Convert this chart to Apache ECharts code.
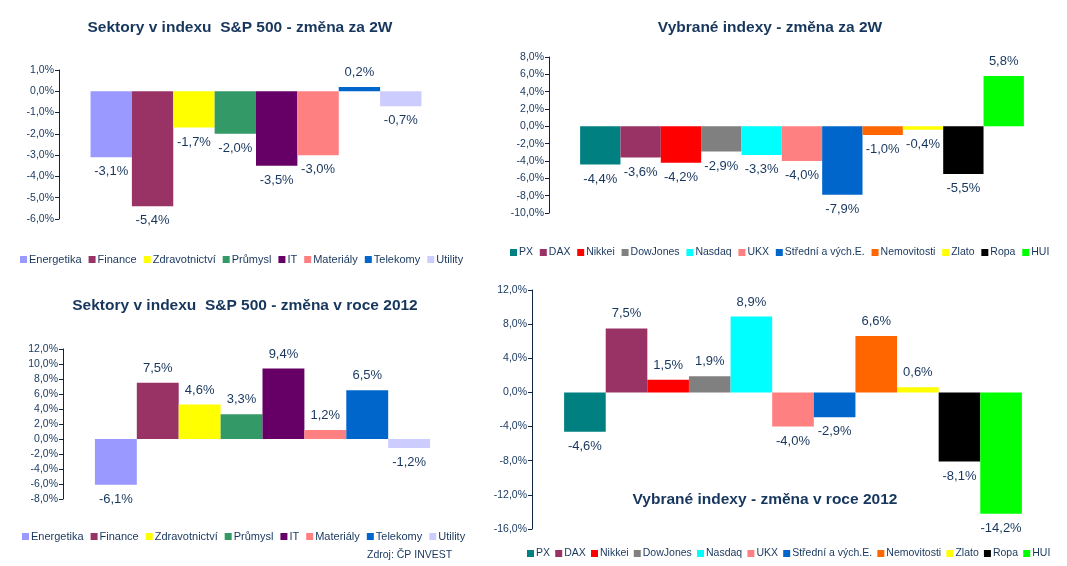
<!DOCTYPE html>
<html><head><meta charset="utf-8">
<script src="https://cdn.jsdelivr.net/npm/echarts@6/dist/echarts.min.js"></script>
<style>html,body{margin:0;padding:0;background:#fff}#c{width:1067px;height:566px}</style>
</head><body><div id="c"></div>
<script>
// ---- data ----
const sectorNames = ['Energetika','Finance','Zdravotnictví','Průmysl','IT','Materiály','Telekomy','Utility'];
const sectorColors = ['#9999FF','#993366','#FFFF00','#339966','#660066','#FF8080','#0066CC','#CCCCFF'];
const sector2W = [-3.1,-5.4,-1.7,-2.0,-3.5,-3.0,0.2,-0.7];
const sector2012 = [-6.1,7.5,4.6,3.3,9.4,1.2,6.5,-1.2];

const indexNames = ['PX','DAX','Nikkei','DowJones','Nasdaq','UKX','Střední a vých.E.','Nemovitosti','Zlato','Ropa','HUI'];
const indexColors = ['#008080','#993366','#FF0000','#808080','#00FFFF','#FF8080','#0066CC','#FF6600','#FFFF00','#000000','#00FF00'];
const index2W = [-4.4,-3.6,-4.2,-2.9,-3.3,-4.0,-7.9,-1.0,-0.4,-5.5,5.8];
const index2012 = [-4.6,7.5,1.5,1.9,8.9,-4.0,-2.9,6.6,0.6,-8.1,-14.2];

const titles = ['Sektory v indexu  S&P 500 - změna za 2W','Vybrané indexy - změna za 2W','Sektory v indexu  S&P 500 - změna v roce 2012','Vybrané indexy - změna v roce 2012'];
const axes = [{min:-6,max:1,interval:1},{min:-10,max:8,interval:2},{min:-8,max:12,interval:2},{min:-16,max:12,interval:4}];

// ---- chart ----
const NAVY = '#17365D';
const FONT = '"Liberation Sans", Arial, sans-serif';
const fmt = v => v.toFixed(1).replace('.', ',') + '%';

const panels = [
  {names: sectorNames, colors: sectorColors, values: sector2W,
   grid:{left:59, right:1067-453, top:70, bottom:566-219},
   legend:{left:15, top:249, width:460, gap:7, fs:11}},
  {names: indexNames, colors: indexColors, values: index2W,
   grid:{left:549, right:1067-1055, top:57, bottom:566-213},
   legend:{left:505, top:242, width:562, gap:6.8, fs:10.5}},
  {names: sectorNames, colors: sectorColors, values: sector2012,
   grid:{left:63, right:1067-462, top:349, bottom:566-499},
   legend:{left:17, top:526, width:460, gap:7, fs:11}},
  {names: indexNames, colors: indexColors, values: index2012,
   grid:{left:522, right:1067-1054, top:290, bottom:566-529},
   legend:{left:522, top:543, width:545, gap:5.2, fs:10.5}}
];
panels[3].grid.left = 532;

const option = {
  animation:false,
  textStyle:{fontFamily:FONT},
  title:[
    {text:titles[0], left:235, top:15, textAlign:'center'},
    {text:titles[1], left:765, top:15, textAlign:'center'},
    {text:titles[2], left:240, top:293, textAlign:'center'},
    {text:titles[3], left:760, top:487, textAlign:'center'}
  ].map(t => Object.assign(t, {textStyle:{fontFamily:FONT, fontSize:15.5, fontWeight:'bold', color:NAVY}})),
  grid: panels.map(p => p.grid),
  xAxis: panels.map((p,i) => ({type:'category', gridIndex:i, data:[''], show:false})),
  yAxis: panels.map((p,i) => ({
    type:'value', gridIndex:i, min:axes[i].min, max:axes[i].max, interval:axes[i].interval,
    axisLine:{show:true, lineStyle:{color:'#0F243E', width:1}},
    axisTick:{show:true, length:4, lineStyle:{color:'#0F243E'}},
    splitLine:{show:false},
    axisLabel:{formatter:fmt, fontSize:10.5, color:NAVY, fontFamily:FONT, margin:5}
  })),
  legend: panels.map(p => ({
    left:p.legend.left, top:p.legend.top, width:p.legend.width,
    data:p.names, itemWidth:7, itemHeight:7, itemGap:p.legend.gap, icon:'rect',
    textStyle:{fontSize:p.legend.fs, color:NAVY, fontFamily:FONT, padding:[0,0,0,-3]},
    selectedMode:false
  })),
  series: [],
  graphic:[{type:'text', left:367, top:550, style:{text:'Zdroj: ČP INVEST', fontSize:10.5, fill:NAVY, fontFamily:FONT}}]
};

panels.forEach((p,i) => {
  p.names.forEach((n,k) => {
    const v = p.values[k];
    option.series.push({
      type:'bar', name:n, xAxisIndex:i, yAxisIndex:i,
      barGap:'0%', barCategoryGap: i%2===0 ? '16%' : '12.3%',
      itemStyle:{color:p.colors[k]},
      label:{show:true, formatter:d => fmt(d.value), fontSize:13, color:NAVY, fontFamily:FONT, distance:8},
      data:[{value:v, label:{position: v < 0 ? 'bottom' : 'top'}}]
    });
  });
});

const chart = echarts.init(document.getElementById('c'), null, {renderer:'canvas'});
chart.setOption(option);
</script>
</body></html>
